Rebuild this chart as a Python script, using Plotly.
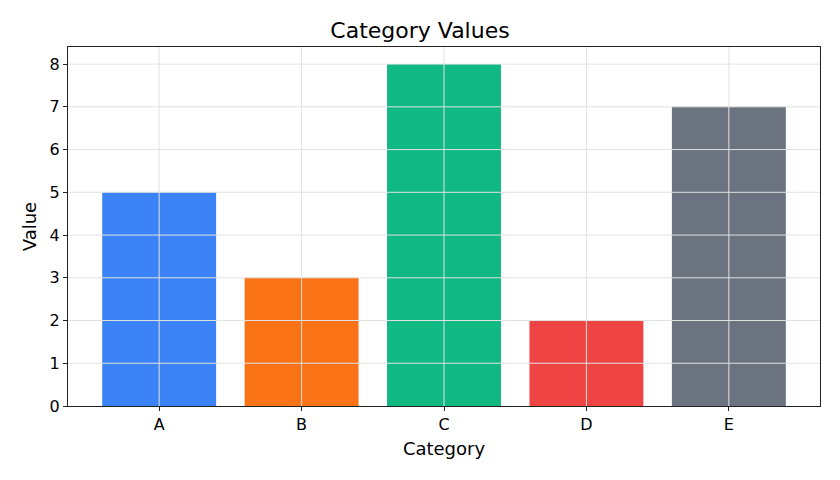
import plotly.graph_objects as go

categories = ["A", "B", "C", "D", "E"]
values = [5, 3, 8, 2, 7]
colors = ["#3b82f6", "#f97316", "#10b981", "#ef4444", "#6b7280"]
y_ticks = [0, 1, 2, 3, 4, 5, 6, 7, 8]

fig = go.Figure(go.Bar(x=list(range(len(categories))), y=values, marker=dict(color=colors, line=dict(width=0)),
                       width=0.8))

grid_color = "#e2e2e2"
shapes = []
for i in range(len(categories)):
    shapes.append(dict(type="line", xref="x", yref="y domain", x0=i, x1=i, y0=0, y1=1,
                       line=dict(color=grid_color, width=1), layer="above"))
for v in y_ticks[1:]:
    shapes.append(dict(type="line", xref="x domain", yref="y", x0=0, x1=1, y0=v, y1=v,
                       line=dict(color=grid_color, width=1), layer="above"))

fig.update_layout(
    width=840, height=480,
    margin=dict(l=68, r=20, t=47, b=74),
    paper_bgcolor="white", plot_bgcolor="white",
    font=dict(family="DejaVu Sans", size=16, color="black"),
    title=dict(text="Category Values", x=0.5, xanchor="center", y=1 - 30 / 480, yanchor="middle",
               font=dict(size=22, color="black")),
    shapes=shapes,
    showlegend=False,
    bargap=0.2,
)
fig.update_xaxes(
    range=[-0.64, len(categories) - 1 + 0.64],
    tickmode="array", tickvals=list(range(len(categories))), ticktext=categories,
    tickfont=dict(size=16, color="black", family="DejaVu Sans"),
    showgrid=False, zeroline=False,
    showline=True, linecolor="#222", linewidth=1, mirror=True,
    ticks="outside", ticklen=4, tickcolor="#222",
    title=dict(text="Category", standoff=9, font=dict(size=18, color="black")),
    layer="above traces",
)
fig.update_yaxes(
    range=[0, 8.4],
    tickmode="array", tickvals=y_ticks,
    tickfont=dict(size=16, color="black", family="DejaVu Sans"),
    showgrid=False, zeroline=False,
    showline=True, linecolor="#222", linewidth=1, mirror=True,
    ticks="outside", ticklen=4, tickcolor="#222",
    title=dict(text="Value", standoff=8, font=dict(size=18, color="black")),
    layer="above traces",
)

fig.write_html("out.html")
